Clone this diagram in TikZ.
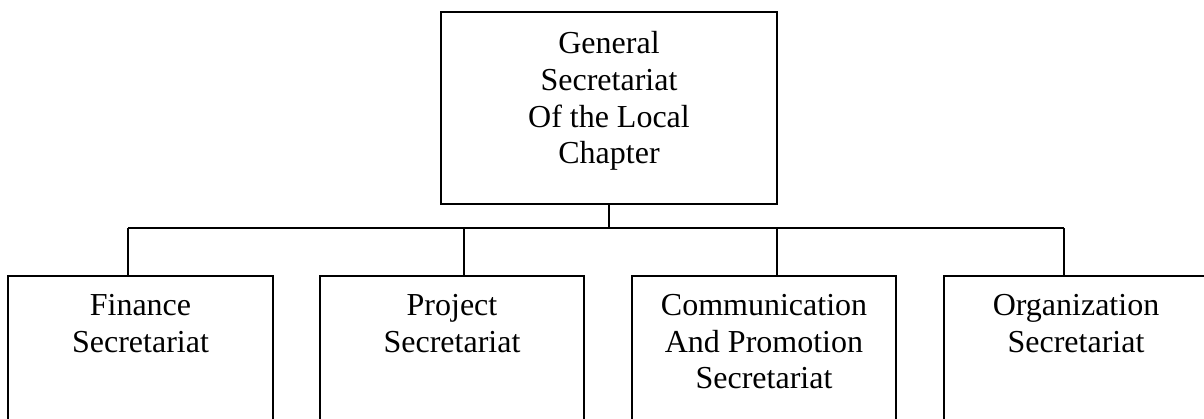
\documentclass[tikz,border=0pt]{standalone}
\usepackage{fontspec}
\setmainfont{Liberation Serif}
\begin{document}
\begin{tikzpicture}[x=1pt,y=-1pt,
  box/.style={draw=black,line width=1.4pt,inner sep=0pt,minimum height=#1},
  box/.default=180,
  lbl/.style={anchor=north,align=center,inner sep=0pt,font=\fontsize{32}{36.8}\selectfont},
  link/.style={draw=black,line width=1.2pt}]
\useasboundingbox (0,0) rectangle (1204,418);
\fill[white] (0,0) rectangle (1204,418);
\clip (0,0) rectangle (1204,418);
% top box
\node[box=192,minimum width=336] (gen) at (609,108) {};
\node[lbl] (gentxt) at (609,31) {General\\Secretariat\\Of the Local\\Chapter};
% bottom boxes
\node[box,minimum width=265] (b1) at (140.5,366) {};
\node[box,minimum width=264] (b2) at (452,366) {};
\node[box,minimum width=264] (b3) at (764,366) {};
\node[box,minimum width=264] (b4) at (1076,366) {};
\node[lbl] (t1) at (140.5,294) {Finance\\Secretariat};
\node[lbl] (t2) at (452,294) {Project\\Secretariat};
\node[lbl] (t3) at (764,294) {Communication\\And Promotion\\Secretariat};
\node[lbl] (t4) at (1076,294) {Organization\\Secretariat};
% bus coordinates
\coordinate (hub) at (609,228);
\coordinate (d1) at (128,228);
\coordinate (d2) at (464,228);
\coordinate (d3) at (777,228);
\coordinate (d4) at (1064,228);
\draw[link] (gen.south) -- (hub);
\draw[link] (d1) -- (d4);
\draw[link] (d1) -- (d1 |- b1.north);
\draw[link] (d2) -- (d2 |- b2.north);
\draw[link] (d3) -- (d3 |- b3.north);
\draw[link] (d4) -- (d4 |- b4.north);
\end{tikzpicture}
\end{document}
